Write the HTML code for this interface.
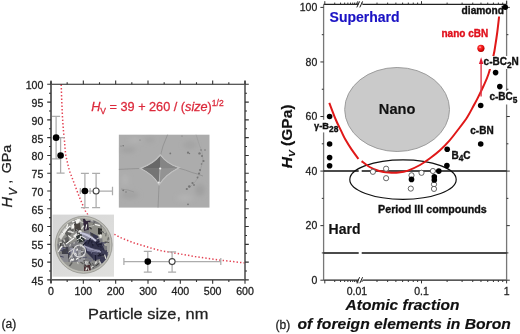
<!DOCTYPE html><html><head><meta charset="utf-8"><style>html,body{margin:0;padding:0;background:#fff;width:520px;height:334px;overflow:hidden}svg{display:block;will-change:transform}text{font-family:"Liberation Sans",sans-serif}</style></head><body>
<svg width="520" height="334" viewBox="0 0 520 334">
<defs><radialGradient id="ball" cx="0.38" cy="0.35" r="0.7"><stop offset="0" stop-color="#ffd0d0"/><stop offset="0.25" stop-color="#ff3030"/><stop offset="0.8" stop-color="#d00000"/><stop offset="1" stop-color="#900000"/></radialGradient><radialGradient id="disc" cx="0.5" cy="0.5" r="0.5"><stop offset="0" stop-color="#8c8c98"/><stop offset="0.8" stop-color="#7a7a88"/><stop offset="0.92" stop-color="#b8b8b0"/><stop offset="1" stop-color="#d0d0c8"/></radialGradient><linearGradient id="phbg" x1="0" y1="0" x2="1" y2="1"><stop offset="0" stop-color="#d6d6d6"/><stop offset="1" stop-color="#e0e0de"/></linearGradient><clipPath id="dclip"><circle cx="83.7" cy="244.8" r="27.9"/></clipPath><filter id="pblur" x="-10%" y="-10%" width="120%" height="120%"><feGaussianBlur stdDeviation="0.65"/></filter><filter id="sblur" x="-20%" y="-20%" width="140%" height="140%"><feGaussianBlur stdDeviation="2"/></filter><filter id="s2blur" x="-20%" y="-20%" width="140%" height="140%"><feGaussianBlur stdDeviation="0.45"/></filter><clipPath id="semclip"><rect x="118.6" y="134.4" width="91.1" height="73.4"/></clipPath></defs>
<rect width="520" height="334" fill="#fff"/>
<path d="M61.2,84.6 L61.7,100 L62.5,118 L63.4,130 L64.5,141 L65.6,154.5 L67.4,162.6 L69.5,171 L72.7,179.4 L75.8,187.7 L79,196.1 L82.1,203.5 L85.3,210.8 L89.4,217 L95,223 L101,227.5 L107,231 L114.4,234.3 L120,237.4 L126,239.8 L134.3,243 L143.3,245.7 L152.3,248.5 L161.3,250.8 L172,252.5 L195,256.6 L220.8,260.2 L244.5,262.9" fill="none" stroke="#e44454" stroke-width="1.5" stroke-dasharray="1.4 2.1" stroke-linecap="butt"/>
<path d="M56.1,116.31 V158.98 M52.1,116.31 H60.1 M52.1,158.98 H60.1" stroke="#acacac" stroke-width="1.25" fill="none"/>
<path d="M60.6,137.65 V173.21 M56.6,137.65 H64.6 M56.6,173.21 H64.6" stroke="#acacac" stroke-width="1.25" fill="none"/>
<path d="M84.9,173.3 V207.5 M80.9,173.3 H88.9 M80.9,207.5 H88.9" stroke="#acacac" stroke-width="1.25" fill="none"/>
<path d="M96.1,173.3 V207.5 M92.1,173.3 H100.1 M92.1,207.5 H100.1" stroke="#acacac" stroke-width="1.25" fill="none"/>
<path d="M80.3,191 H90.1 M80.3,188 V194 M90.1,188 V194" stroke="#acacac" stroke-width="1.25" fill="none"/>
<path d="M90.1,191 H112.5 M112.5,186.7 V195.3" stroke="#acacac" stroke-width="1.25" fill="none"/>
<path d="M147.8,251.3 V272.1 M143.8,251.3 H151.8 M143.8,272.1 H151.8" stroke="#acacac" stroke-width="1.25" fill="none"/>
<path d="M172.1,251.8 V272.1 M168.1,251.8 H176.1 M168.1,272.1 H176.1" stroke="#acacac" stroke-width="1.25" fill="none"/>
<path d="M123.9,261.6 H220.8 M123.9,258.1 V265.1 M220.8,258.1 V265.1" stroke="#acacac" stroke-width="1.25" fill="none"/>
<circle cx="56.1" cy="137.65" r="3.3" fill="#000"/>
<circle cx="60.6" cy="155.43" r="3.3" fill="#000"/>
<circle cx="84.9" cy="191" r="3.3" fill="#000"/>
<circle cx="96.1" cy="191" r="3" fill="#fff" stroke="#444" stroke-width="1.1"/>
<circle cx="147.8" cy="261.6" r="3.3" fill="#000"/>
<circle cx="172.1" cy="261.6" r="3" fill="#fff" stroke="#444" stroke-width="1.1"/>
<g clip-path="url(#semclip)">
<rect x="118.6" y="134.4" width="91.1" height="73.4" fill="#acacac"/>
<g filter="url(#sblur)">
<ellipse cx="128" cy="150" rx="8" ry="3" fill="#a2a2a2"/>
<ellipse cx="135" cy="140" rx="6" ry="2.5" fill="#b4b4b4"/>
<ellipse cx="190" cy="145" rx="7" ry="4" fill="#a4a4a4"/>
<ellipse cx="130" cy="195" rx="9" ry="4" fill="#a3a3a3"/>
<ellipse cx="185" cy="198" rx="8" ry="3" fill="#b3b3b3"/>
<ellipse cx="150" cy="140" rx="5" ry="3" fill="#a5a5a5"/>
<ellipse cx="200" cy="190" rx="5" ry="6" fill="#a0a0a0"/>
<ellipse cx="125" cy="180" rx="4" ry="6" fill="#b2b2b2"/>
</g>
<g filter="url(#s2blur)">
<path d="M118.6,169.4 Q130,168.8 142,168.4 M177.5,167.8 Q186,170 192,172.5 Q198,174 203,176 M159.1,183.6 L158.6,195 L158,207.8 M160.4,155.9 L163,146 L167.7,134.4" stroke="#929292" stroke-width="0.9" fill="none"/>
<path d="M196,134.4 L199,144 L202,152 L203,160 L201,168 L199,176 L195,182 L189,188" stroke="#9c9c9c" stroke-width="0.7" fill="none"/>
<path d="M121,189 L128,190 L134,192" stroke="#959595" stroke-width="0.8" fill="none"/>
<path d="M142,168.4 Q153.84,164.05 160.4,155.9 Q166.26,163.85 177.5,167.8 Q165.8,173.54 159.1,183.6 Q153.4,173.75 142,168.4 Z" fill="none" stroke="#c4c4c4" stroke-width="2.6" opacity="0.85"/>
<clipPath id="indc"><path d="M142,168.4 Q153.84,164.05 160.4,155.9 Q166.26,163.85 177.5,167.8 Q165.8,173.54 159.1,183.6 Q153.4,173.75 142,168.4 Z"/></clipPath>
<g clip-path="url(#indc)">
<rect x="140" y="150" width="40" height="40" fill="#888"/>
<polygon points="142,168.4 160.4,155.9 160,168.5" fill="#686868"/>
<polygon points="142,168.4 159.1,183.6 160,168.5" fill="#747474"/>
<polygon points="177.5,167.8 160.4,155.9 160,168.5" fill="#858585"/>
<polygon points="177.5,167.8 159.1,183.6 160,168.5" fill="#939393"/>
<path d="M160,168.5 L159.3,182" stroke="#b8b8b8" stroke-width="0.9"/>
</g>
<circle cx="160.2" cy="168.5" r="1.1" fill="#f2f2f2"/>
<circle cx="158.8" cy="182.6" r="1.0" fill="#eaeaea"/>
</g>
<circle cx="199.5" cy="153.4" r="1.2" fill="#767676"/>
<circle cx="201" cy="150" r="0.8" fill="#767676"/>
<circle cx="202" cy="156" r="1" fill="#767676"/>
<circle cx="203.5" cy="161" r="1.1" fill="#767676"/>
<circle cx="201.5" cy="164" r="0.8" fill="#767676"/>
<circle cx="200" cy="170" r="1" fill="#767676"/>
<circle cx="199" cy="173.5" r="1.1" fill="#767676"/>
<circle cx="197.5" cy="177.5" r="0.9" fill="#767676"/>
<circle cx="192.5" cy="183" r="1.1" fill="#767676"/>
<circle cx="189.3" cy="186.5" r="1.3" fill="#767676"/>
<circle cx="186.8" cy="189" r="1.1" fill="#767676"/>
<circle cx="188" cy="204.3" r="0.9" fill="#767676"/>
<circle cx="170.3" cy="153.4" r="0.9" fill="#767676"/>
<circle cx="188" cy="152.7" r="1.1" fill="#767676"/>
<circle cx="189.5" cy="153.5" r="0.7" fill="#767676"/>
<circle cx="123.2" cy="190.3" r="0.9" fill="#767676"/>
<circle cx="126" cy="192" r="0.7" fill="#767676"/>
<circle cx="123.2" cy="145.8" r="0.8" fill="#767676"/>
<circle cx="205" cy="150" r="0.8" fill="#767676"/>
<circle cx="194" cy="185" r="0.9" fill="#767676"/>
<circle cx="121" cy="146" r="0.6" fill="#767676"/>
<circle cx="140" cy="140" r="0.6" fill="#767676"/>
<circle cx="182" cy="136" r="0.6" fill="#767676"/>
</g>
<rect x="52.5" y="214.6" width="61.5" height="62.1" fill="url(#phbg)"/>
<circle cx="83.7" cy="244.8" r="28.6" fill="#b8b8b0"/>
<g clip-path="url(#dclip)"><g filter="url(#pblur)">
<circle cx="83.7" cy="244.8" r="28.3" fill="#7a7a7e"/>
<polygon points="56,244 58,232 64,224 72,219 84,218 84,232 78,240 70,244" fill="#8e8e8a"/>
<polygon points="58,238 62,230 66,226 70,228 64,236" fill="#b4b4b0"/>
<polygon points="64,232 70,226 74,230 68,238" fill="#5e5e5c"/>
<polygon points="70,227 78,219 81,220 73,229" fill="#f4f4f0"/>
<polygon points="73,236 80,230 82,232 75,238" fill="#ececea"/>
<polygon points="59,237 65,228 67,230 61,240" fill="#dcdcd8"/>
<polygon points="74,224 80,223 81,230 75,231" fill="#4a4540"/>
<polygon points="76,236 83,233 85,241 78,243" fill="#2e3434"/>
<polygon points="61,241 68,236 70,243 63,245" fill="#606060"/>
<polygon points="83,219 90,219 91,229 84,231" fill="#30283a"/>
<polygon points="88,222 100,224 104,232 98,238 90,236" fill="#8e8e88"/>
<polygon points="98,228 104,229 103,235 98,234" fill="#2c2c2c"/>
<polygon points="98,235 103,235 101,239" fill="#d0d0c8"/>
<polygon points="102,226 108,233 111,246 103,246 102,236" fill="#a8a8a0"/>
<polygon points="82,232 90,234 97,240 88,241 82,237" fill="#8c8ca0"/>
<polygon points="84,240 97,240 103,246 107,256 104,263 94,260 86,252" fill="#30304a"/>
<polygon points="90,232 98,236 100,242 92,242" fill="#383850"/>
<polygon points="55,246 62,246 62,262 58,262" fill="#7c7c7c"/>
<polygon points="62,247 69,247 70,258 64,260 62,254" fill="#404048"/>
<polygon points="68,246 78,246 80,256 76,264 70,262" fill="#74747c"/>
<polygon points="70,248 76,248 77,256 72,258" fill="#9090a0"/>
<polygon points="78,250 84,250 84,262 78,262" fill="#9a9aa2"/>
<polygon points="60,262 84,262 84,273 70,272" fill="#969692"/>
<polygon points="80,252 85,252 85,262 80,262" fill="#9c9ca0"/>
<polygon points="86,247 100,250 100,253.5 87,251" fill="#7c7c98"/>
<polygon points="92,254 107,250 106,262 94,262" fill="#3c3c54"/>
<polygon points="88,262 104,258 106,264 98,270 88,270" fill="#888888"/>
<polygon points="84,265 90,265 91,271 84,271" fill="#482e30"/>
<polygon points="107,240 111,240 110,254 107,254" fill="#a4a4a0"/>
<polygon points="100,254 108,252 106,262 100,264" fill="#3a3a52"/>
<polygon points="84,217 92,217 96,220 86,221" fill="#a8a8a4"/>
<polygon points="60,254 68,254 68,262 62,262" fill="#8a8a90"/>
<path d="M79.79,252.64 L78.75,254.68" stroke="#c8c8c4" stroke-width="0.77"/><path d="M61.68,231.98 L63.51,233.44" stroke="#5a5a5a" stroke-width="0.75"/><path d="M98.76,253.12 L96.62,254.41" stroke="#1e1e30" stroke-width="1.14"/><path d="M78.49,240.58 L77.91,242.7" stroke="#e4e4e0" stroke-width="0.73"/><path d="M91.23,233.6 L93.46,234.68" stroke="#3e3e3c" stroke-width="1.09"/><path d="M80.61,236.01 L80,238.69" stroke="#f4f4f0" stroke-width="1.08"/><path d="M87.56,245.77 L91.33,248.62" stroke="#44445e" stroke-width="1.24"/><path d="M59.14,248.7 L60.4,251.41" stroke="#e4e4e0" stroke-width="1.19"/><path d="M84.63,261.37 L84.2,266.86" stroke="#5a5a5a" stroke-width="0.9"/><path d="M91.75,241.28 L93.03,246.14" stroke="#1e1e30" stroke-width="1.35"/><path d="M59.6,256.1 L63.71,257.13" stroke="#44445e" stroke-width="0.94"/><path d="M74.03,258.65 L72.21,260" stroke="#f4f4f0" stroke-width="1.36"/><path d="M60.83,247.71 L65.55,248.62" stroke="#6a6a84" stroke-width="1.1"/><path d="M78.32,227.19 L74.83,231.5" stroke="#3e3e3c" stroke-width="0.72"/><path d="M72.5,246.89 L74.59,247.69" stroke="#3e3e3c" stroke-width="0.79"/><path d="M85.01,260.29 L82.87,261.2" stroke="#5a5a5a" stroke-width="0.98"/><path d="M81.6,252.04 L82.51,256.14" stroke="#5a5a5a" stroke-width="1.39"/><path d="M76.37,229.68 L78.12,231.23" stroke="#e4e4e0" stroke-width="0.86"/><path d="M85.98,260.99 L85.13,263.93" stroke="#f4f4f0" stroke-width="0.8"/><path d="M63.58,239.45 L64.93,241.56" stroke="#c8c8c4" stroke-width="1.37"/><path d="M71,223.95 L71.74,229.38" stroke="#c8c8c4" stroke-width="0.97"/><path d="M77.55,248.64 L76.63,250.69" stroke="#f4f4f0" stroke-width="1.39"/><path d="M76.2,246.74 L75.45,249.03" stroke="#c8c8c4" stroke-width="0.81"/><path d="M93.32,253.73 L98.8,254.17" stroke="#6a6a84" stroke-width="0.96"/><path d="M67.76,224.32 L66.53,228.01" stroke="#f4f4f0" stroke-width="1.29"/><path d="M101.03,242.88 L101.15,245.22" stroke="#1e1e30" stroke-width="1.22"/><path d="M83.78,225.52 L81.48,228.86" stroke="#e4e4e0" stroke-width="1.37"/><path d="M74.23,242.03 L73.95,244.12" stroke="#c8c8c4" stroke-width="0.91"/><path d="M80.71,237.83 L77.1,239.73" stroke="#e4e4e0" stroke-width="0.95"/><path d="M86.91,261.02 L86.87,265.57" stroke="#c8c8c4" stroke-width="1.27"/><path d="M109.3,241.06 L104.98,244.08" stroke="#e4e4e0" stroke-width="0.84"/><path d="M64.5,245.7 L59.34,245.87" stroke="#5a5a5a" stroke-width="0.88"/><path d="M74.41,218.63 L75.36,224.3" stroke="#3e3e3c" stroke-width="1.37"/><path d="M74.75,252.89 L76.86,254.71" stroke="#e4e4e0" stroke-width="1.04"/><path d="M100.72,242.94 L106.35,242.97" stroke="#44445e" stroke-width="1.26"/><path d="M104.02,254.61 L99.09,256.04" stroke="#1e1e30" stroke-width="1.03"/><path d="M92.23,262.96 L94.84,267.46" stroke="#5a5a5a" stroke-width="1.02"/><path d="M80.77,235.95 L86.01,238.8" stroke="#f4f4f0" stroke-width="0.81"/><path d="M100.25,230.73 L105.01,233.09" stroke="#5a5a5a" stroke-width="1.16"/><path d="M71.62,259.64 L73.5,260.46" stroke="#f4f4f0" stroke-width="1.07"/><path d="M101.5,236.96 L96.62,239.04" stroke="#e4e4e0" stroke-width="0.72"/><path d="M89.1,261.24 L86.67,263.48" stroke="#c8c8c4" stroke-width="0.99"/><path d="M99.38,260.93 L101.08,264.36" stroke="#c8c8c4" stroke-width="1.27"/><path d="M61.81,241.89 L59.47,242.83" stroke="#e4e4e0" stroke-width="1.07"/><path d="M99.65,246.24 L101.35,247.33" stroke="#1e1e30" stroke-width="0.82"/><path d="M62.58,246.77 L61.99,250.03" stroke="#6a6a84" stroke-width="1.07"/><path d="M62.41,246.87 L60.33,247.67" stroke="#e4e4e0" stroke-width="0.89"/><path d="M86.72,224.33 L85.75,229.28" stroke="#f4f4f0" stroke-width="1.01"/><path d="M70.01,230.64 L69.82,235.41" stroke="#5a5a5a" stroke-width="1.06"/><path d="M88.65,226.36 L91.57,229.23" stroke="#3e3e3c" stroke-width="1.35"/><path d="M92.37,235.83 L92.97,239.45" stroke="#5a5a5a" stroke-width="1.01"/><path d="M92.65,249.77 L97.21,250.84" stroke="#1e1e30" stroke-width="1.33"/><path d="M96.51,261.48 L95.27,263.73" stroke="#e4e4e0" stroke-width="1.38"/><path d="M87.81,267.36 L89.05,271.11" stroke="#e4e4e0" stroke-width="0.81"/><path d="M66.38,251.22 L67.73,253.65" stroke="#44445e" stroke-width="0.76"/><path d="M73.52,253.48 L74.14,258.25" stroke="#5a5a5a" stroke-width="0.93"/><path d="M67.8,231.39 L73.62,232.58" stroke="#e4e4e0" stroke-width="1.38"/><path d="M91.56,252.52 L96.63,253.16" stroke="#44445e" stroke-width="1.23"/><path d="M95.2,221.06 L92.16,225.98" stroke="#5a5a5a" stroke-width="0.8"/><path d="M101.23,234.48 L99.84,236.39" stroke="#f4f4f0" stroke-width="1.26"/><path d="M92.83,266.07 L94.2,267.62" stroke="#f4f4f0" stroke-width="1.26"/><path d="M101.44,256.08 L106.77,257.22" stroke="#5a5a5a" stroke-width="0.71"/><path d="M102.34,243.62 L98.01,244.8" stroke="#1e1e30" stroke-width="1.07"/><path d="M83.35,252.68 L85.27,253.75" stroke="#1e1e30" stroke-width="1.35"/><path d="M69.36,230.22 L72.38,232.5" stroke="#e4e4e0" stroke-width="0.89"/><path d="M91.09,220.68 L93.15,220.92" stroke="#c8c8c4" stroke-width="1.09"/><path d="M91.41,260.87 L89.04,261.36" stroke="#6a6a84" stroke-width="1"/><path d="M59.75,243.63 L61.08,247.43" stroke="#e4e4e0" stroke-width="1.39"/><path d="M72.28,262.42 L69.53,266.04" stroke="#5a5a5a" stroke-width="1.39"/><path d="M104.63,242.05 L109.13,242.25" stroke="#3e3e3c" stroke-width="1"/><path d="M102.52,250.02 L103.99,253.77" stroke="#44445e" stroke-width="1.12"/><path d="M80.5,238.88 L83.07,240.57" stroke="#f4f4f0" stroke-width="0.88"/><path d="M108.35,237.35 L107.91,240.29" stroke="#3e3e3c" stroke-width="0.85"/><path d="M88.23,257.87 L91.24,258.68" stroke="#6a6a84" stroke-width="0.84"/><path d="M81.11,243.88 L82.7,245.62" stroke="#5a5a5a" stroke-width="1.11"/><path d="M73.19,252.35 L72.26,254.5" stroke="#c8c8c4" stroke-width="1.3"/><path d="M98.92,263.37 L95.5,266.13" stroke="#3e3e3c" stroke-width="1.2"/><path d="M70.59,244.1 L69.65,246.5" stroke="#c8c8c4" stroke-width="1.14"/><path d="M79.52,221.07 L83.23,222.8" stroke="#c8c8c4" stroke-width="1.1"/><path d="M86.38,239.65 L83.51,243.98" stroke="#6a6a84" stroke-width="1.18"/><path d="M78.18,233.22 L80.7,233.46" stroke="#3e3e3c" stroke-width="1.37"/><path d="M70.44,256.63 L72.49,256.96" stroke="#c8c8c4" stroke-width="1.18"/><path d="M84.24,243.42 L80.23,246.38" stroke="#c8c8c4" stroke-width="1.33"/><path d="M100.55,253.5 L97.83,256.29" stroke="#1e1e30" stroke-width="1.29"/><path d="M84.1,265.35 L87.54,268.4" stroke="#5a5a5a" stroke-width="1.05"/><path d="M72.02,254.55 L69.26,258.8" stroke="#c8c8c4" stroke-width="1.14"/><path d="M88.84,261.53 L91.16,265.5" stroke="#3e3e3c" stroke-width="1.13"/><path d="M95.41,255.03 L95.67,260.91" stroke="#1e1e30" stroke-width="1.18"/><path d="M77.61,230.59 L77.41,234.45" stroke="#5a5a5a" stroke-width="1.24"/><path d="M101.93,243.03 L103.23,244.98" stroke="#44445e" stroke-width="0.71"/><path d="M63.26,250.5 L59.48,250.88" stroke="#44445e" stroke-width="0.97"/><path d="M103.85,232.21 L106.14,232.76" stroke="#c8c8c4" stroke-width="0.88"/><path d="M71.74,258.67 L70.49,261.52" stroke="#f4f4f0" stroke-width="1.19"/><path d="M86.47,267.75 L86.57,269.84" stroke="#f4f4f0" stroke-width="1.36"/><path d="M78.13,228.66 L75.73,231.43" stroke="#5a5a5a" stroke-width="0.92"/><path d="M86.17,242.01 L82.37,245.79" stroke="#1e1e30" stroke-width="1.36"/><path d="M85.65,246.3 L83.59,248.5" stroke="#1e1e30" stroke-width="0.98"/><path d="M102.49,242.97 L104.06,246.33" stroke="#44445e" stroke-width="1.3"/><path d="M83.7,248.5 L81.49,252.47" stroke="#e4e4e0" stroke-width="0.87"/><path d="M80.46,261.96 L83.35,263.92" stroke="#5a5a5a" stroke-width="1.32"/><path d="M94.16,225.29 L88.61,226.84" stroke="#c8c8c4" stroke-width="0.84"/><path d="M104.63,254.6 L105.86,258.89" stroke="#e4e4e0" stroke-width="1.15"/><path d="M83.65,250.01 L81.21,250.58" stroke="#5a5a5a" stroke-width="0.99"/><path d="M82.72,255.75 L79.57,259.13" stroke="#5a5a5a" stroke-width="1.16"/><path d="M77.29,261.61 L78.16,264.14" stroke="#e4e4e0" stroke-width="0.75"/><path d="M61.02,242.83 L60.42,246.59" stroke="#3e3e3c" stroke-width="1.4"/><path d="M73.67,247.07 L75.61,248.42" stroke="#3e3e3c" stroke-width="1.09"/><path d="M78.33,258.04 L76.01,259.62" stroke="#f4f4f0" stroke-width="1.22"/><path d="M69.83,251.6 L69.56,255.1" stroke="#44445e" stroke-width="1.23"/><path d="M63.37,242.88 L65.39,247.17" stroke="#c8c8c4" stroke-width="1.14"/><path d="M90.43,234.68 L92.4,236.93" stroke="#5a5a5a" stroke-width="1.15"/><path d="M73.19,249.1 L68.29,252.33" stroke="#e4e4e0" stroke-width="0.72"/><path d="M77.44,219.28 L77.81,223.61" stroke="#f4f4f0" stroke-width="0.75"/><path d="M106.11,232.44 L105.78,236.3" stroke="#5a5a5a" stroke-width="0.87"/><path d="M91.62,248.78 L91.29,253.5" stroke="#6a6a84" stroke-width="1.19"/><path d="M94.98,224.3 L99.91,225.65" stroke="#f4f4f0" stroke-width="1.25"/><path d="M87.08,267.67 L85.66,270.55" stroke="#e4e4e0" stroke-width="1.14"/><path d="M67.98,241.01 L66.22,242.63" stroke="#3e3e3c" stroke-width="1.07"/><path d="M68.24,235.47 L71.6,238.32" stroke="#f4f4f0" stroke-width="1.08"/><path d="M95.69,242.25 L98.62,246.74" stroke="#1e1e30" stroke-width="1.03"/><path d="M87.3,257.12 L82.52,257.71" stroke="#44445e" stroke-width="0.74"/><path d="M92.47,266.28 L91.43,268.36" stroke="#e4e4e0" stroke-width="1.17"/><path d="M92.86,239.12 L96.19,239.48" stroke="#44445e" stroke-width="0.95"/><path d="M80.4,243.93 L83.67,248.21" stroke="#f4f4f0" stroke-width="0.84"/><path d="M98.92,241.34 L96.45,242.9" stroke="#1e1e30" stroke-width="0.89"/><path d="M91.01,237.35 L89.32,241.46" stroke="#1e1e30" stroke-width="1.04"/><path d="M89.66,238.85 L87.99,244.29" stroke="#1e1e30" stroke-width="0.85"/><path d="M92.07,243.06 L94.28,243.43" stroke="#44445e" stroke-width="1.01"/><path d="M79.24,230.51 L81.41,231.31" stroke="#e4e4e0" stroke-width="0.93"/><path d="M94.17,266.71 L92.68,268.23" stroke="#5a5a5a" stroke-width="1.29"/>
<circle cx="79.5" cy="251" r="6" fill="none" stroke="#dcdcdc" stroke-width="1.1"/>
<path d="M80,233 Q88,234 96,241" stroke="#c8c8dc" stroke-width="2" fill="none"/>
<path d="M84,246 Q92,250 101,252" stroke="#9a9ab4" stroke-width="1.4" fill="none"/>
<path d="M62,234 L70,226 M66,244 L74,238 M58,252 L62,246 M72,222 L80,219" stroke="#f4f4f2" stroke-width="1.2" fill="none"/>
</g></g>
<circle cx="83.7" cy="244.8" r="27.3" fill="none" stroke="#c2c2ba" stroke-width="1.6" opacity="0.9"/>
<circle cx="83.7" cy="244.8" r="28.5" fill="none" stroke="#8a8a86" stroke-width="0.8" opacity="0.8"/>
<path d="M51,84.3 H245" stroke="#222" stroke-width="1.1"/>
<path d="M51,279.9 H245" stroke="#222" stroke-width="1.3"/>
<path d="M51,81.3 V282.9" stroke="#555" stroke-width="1.8"/>
<path d="M245,80.8 V279.9" stroke="#555" stroke-width="1.6"/>
<path d="M47.2,279.9 H51 M245,279.9 H248.8 M49,271.01 H51 M245,271.01 H247 M47.2,262.12 H51 M245,262.12 H248.8 M49,253.23 H51 M245,253.23 H247 M47.2,244.34 H51 M245,244.34 H248.8 M49,235.45 H51 M245,235.45 H247 M47.2,226.55 H51 M245,226.55 H248.8 M49,217.66 H51 M245,217.66 H247 M47.2,208.77 H51 M245,208.77 H248.8 M49,199.88 H51 M245,199.88 H247 M47.2,190.99 H51 M245,190.99 H248.8 M49,182.1 H51 M245,182.1 H247 M47.2,173.21 H51 M245,173.21 H248.8 M49,164.32 H51 M245,164.32 H247 M47.2,155.43 H51 M245,155.43 H248.8 M49,146.54 H51 M245,146.54 H247 M47.2,137.65 H51 M245,137.65 H248.8 M49,128.75 H51 M245,128.75 H247 M47.2,119.86 H51 M245,119.86 H248.8 M49,110.97 H51 M245,110.97 H247 M47.2,102.08 H51 M245,102.08 H248.8 M49,93.19 H51 M245,93.19 H247 M47.2,84.3 H51 M245,84.3 H248.8 M51,279.9 V283.7 M51,80.5 V84.3 M67.17,279.9 V281.9 M67.17,82.3 V84.3 M83.33,279.9 V283.7 M83.33,80.5 V84.3 M99.5,279.9 V281.9 M99.5,82.3 V84.3 M115.67,279.9 V283.7 M115.67,80.5 V84.3 M131.83,279.9 V281.9 M131.83,82.3 V84.3 M148,279.9 V283.7 M148,80.5 V84.3 M164.17,279.9 V281.9 M164.17,82.3 V84.3 M180.33,279.9 V283.7 M180.33,80.5 V84.3 M196.5,279.9 V281.9 M196.5,82.3 V84.3 M212.67,279.9 V283.7 M212.67,80.5 V84.3 M228.83,279.9 V281.9 M228.83,82.3 V84.3 M245,279.9 V283.7 M245,80.5 V84.3" stroke="#333" stroke-width="1.1"/>
<text x="43.4" y="284.9" font-size="10.6" text-anchor="end" fill="#222" stroke="#222" stroke-width="0.28">45</text>
<text x="43.4" y="267.12" font-size="10.6" text-anchor="end" fill="#222" stroke="#222" stroke-width="0.28">50</text>
<text x="43.4" y="249.34" font-size="10.6" text-anchor="end" fill="#222" stroke="#222" stroke-width="0.28">55</text>
<text x="43.4" y="231.55" font-size="10.6" text-anchor="end" fill="#222" stroke="#222" stroke-width="0.28">60</text>
<text x="43.4" y="213.77" font-size="10.6" text-anchor="end" fill="#222" stroke="#222" stroke-width="0.28">65</text>
<text x="43.4" y="195.99" font-size="10.6" text-anchor="end" fill="#222" stroke="#222" stroke-width="0.28">70</text>
<text x="43.4" y="178.21" font-size="10.6" text-anchor="end" fill="#222" stroke="#222" stroke-width="0.28">75</text>
<text x="43.4" y="160.43" font-size="10.6" text-anchor="end" fill="#222" stroke="#222" stroke-width="0.28">80</text>
<text x="43.4" y="142.65" font-size="10.6" text-anchor="end" fill="#222" stroke="#222" stroke-width="0.28">85</text>
<text x="43.4" y="124.86" font-size="10.6" text-anchor="end" fill="#222" stroke="#222" stroke-width="0.28">90</text>
<text x="43.4" y="107.08" font-size="10.6" text-anchor="end" fill="#222" stroke="#222" stroke-width="0.28">95</text>
<text x="43.4" y="89.3" font-size="10.6" text-anchor="end" fill="#222" stroke="#222" stroke-width="0.28">100</text>
<text x="51" y="295.3" font-size="10.6" text-anchor="middle" fill="#222" stroke="#222" stroke-width="0.28">0</text>
<text x="83.33" y="295.3" font-size="10.6" text-anchor="middle" fill="#222" stroke="#222" stroke-width="0.28">100</text>
<text x="115.67" y="295.3" font-size="10.6" text-anchor="middle" fill="#222" stroke="#222" stroke-width="0.28">200</text>
<text x="148" y="295.3" font-size="10.6" text-anchor="middle" fill="#222" stroke="#222" stroke-width="0.28">300</text>
<text x="180.33" y="295.3" font-size="10.6" text-anchor="middle" fill="#222" stroke="#222" stroke-width="0.28">400</text>
<text x="212.67" y="295.3" font-size="10.6" text-anchor="middle" fill="#222" stroke="#222" stroke-width="0.28">500</text>
<text x="245" y="295.3" font-size="10.6" text-anchor="middle" fill="#222" stroke="#222" stroke-width="0.28">600</text>
<text x="91.2" y="111.4" font-size="12.7" fill="#dc2a3c" stroke="#dc2a3c" stroke-width="0.28"><tspan font-style="italic">H</tspan><tspan font-size="8.5" dy="2.5">V</tspan><tspan dy="-2.5"> = 39 + 260 / (</tspan><tspan font-style="italic">size</tspan><tspan>)</tspan><tspan font-size="8.5" dy="-5">1/2</tspan></text>
<text transform="translate(12.0,207.6) rotate(-90)" font-size="14.5" font-style="italic" fill="#222" stroke="#222" stroke-width="0.28">H</text>
<text transform="translate(17.0,195.6) rotate(-90)" font-size="11" font-style="italic" fill="#222" stroke="#222" stroke-width="0.28">V</text>
<text transform="translate(11.2,183.6) rotate(-90)" font-size="13.2" fill="#222" stroke="#222" stroke-width="0.28">,</text>
<text transform="translate(11.0,173.2) rotate(-90) scale(1.08,1)" font-size="13.2" fill="#222" stroke="#222" stroke-width="0.28">GPa</text>
<text x="88.1" y="318.8" font-size="15" fill="#222" transform="translate(88.1,0) scale(1.093,1) translate(-88.1,0)" stroke="#222" stroke-width="0.28">Particle size, nm</text>
<text x="1.5" y="328.2" font-size="12" fill="#222" stroke="#222" stroke-width="0.28">(a)</text>
<path d="M323.6,4.4 H358.5 M362.5,4.4 H506.6" stroke="#222" stroke-width="1.1"/>
<path d="M323.6,280.2 H358.5 M362.5,280.2 H506.6" stroke="#222" stroke-width="1.2"/>
<path d="M323.6,4.4 V280.2" stroke="#777" stroke-width="1.3"/>
<path d="M506.6,0.5 V280.2" stroke="#777" stroke-width="1.3"/>
<path d="M356.8,7.4 L359.6,1.4 M359.8,7.4 L362.6,1.4" stroke="#222" stroke-width="1"/>
<path d="M356.8,283.2 L359.6,277.2 M359.8,283.2 L362.6,277.2" stroke="#222" stroke-width="1"/>
<path d="M320.4,280.2 H323.6 M506.6,280.2 H509.8 M321.8,252.92 H323.6 M506.6,252.92 H508.4 M320.4,225.64 H323.6 M506.6,225.64 H509.8 M321.8,198.36 H323.6 M506.6,198.36 H508.4 M320.4,171.08 H323.6 M506.6,171.08 H509.8 M321.8,143.8 H323.6 M506.6,143.8 H508.4 M320.4,116.52 H323.6 M506.6,116.52 H509.8 M321.8,89.24 H323.6 M506.6,89.24 H508.4 M320.4,61.96 H323.6 M506.6,61.96 H509.8 M321.8,34.68 H323.6 M506.6,34.68 H508.4 M320.4,7.4 H323.6 M506.6,7.4 H509.8 M324.8,280.2 V283.4 M324.8,1.2 V4.4 M334.73,280.2 V282 M334.73,2.6 V4.4 M340.55,280.2 V282 M340.55,2.6 V4.4 M344.67,280.2 V282 M344.67,2.6 V4.4 M347.87,280.2 V282 M347.87,2.6 V4.4 M350.48,280.2 V282 M350.48,2.6 V4.4 M352.69,280.2 V282 M352.69,2.6 V4.4 M354.6,280.2 V282 M354.6,2.6 V4.4 M356.29,280.2 V282 M356.29,2.6 V4.4 M357.8,280.2 V283.4 M357.8,1.2 V4.4 M362.02,280.2 V282 M362.02,2.6 V4.4 M377,280.2 V282 M377,2.6 V4.4 M387.64,280.2 V282 M387.64,2.6 V4.4 M395.88,280.2 V282 M395.88,2.6 V4.4 M402.62,280.2 V282 M402.62,2.6 V4.4 M408.32,280.2 V282 M408.32,2.6 V4.4 M413.25,280.2 V282 M413.25,2.6 V4.4 M417.61,280.2 V282 M417.61,2.6 V4.4 M421.5,280.2 V283.4 M421.5,1.2 V4.4 M447.12,280.2 V282 M447.12,2.6 V4.4 M462.1,280.2 V282 M462.1,2.6 V4.4 M472.74,280.2 V282 M472.74,2.6 V4.4 M480.98,280.2 V282 M480.98,2.6 V4.4 M487.72,280.2 V282 M487.72,2.6 V4.4 M493.42,280.2 V282 M493.42,2.6 V4.4 M498.35,280.2 V282 M498.35,2.6 V4.4 M502.71,280.2 V282 M502.71,2.6 V4.4 M506.6,280.2 V283.4 M506.6,1.2 V4.4" stroke="#333" stroke-width="1"/>
<text x="317.3" y="283.9" font-size="10.5" text-anchor="end" fill="#222" stroke="#222" stroke-width="0.28">0</text>
<text x="317.3" y="229.34" font-size="10.5" text-anchor="end" fill="#222" stroke="#222" stroke-width="0.28">20</text>
<text x="317.3" y="174.78" font-size="10.5" text-anchor="end" fill="#222" stroke="#222" stroke-width="0.28">40</text>
<text x="317.3" y="120.22" font-size="10.5" text-anchor="end" fill="#222" stroke="#222" stroke-width="0.28">60</text>
<text x="317.3" y="65.66" font-size="10.5" text-anchor="end" fill="#222" stroke="#222" stroke-width="0.28">80</text>
<text x="317.3" y="11.1" font-size="10.5" text-anchor="end" fill="#222" stroke="#222" stroke-width="0.28">100</text>
<ellipse cx="397.1" cy="109.5" rx="52.4" ry="42.0" fill="#cacaca" stroke="#9c9c9c" stroke-width="1"/>
<text x="397.1" y="113.9" font-size="14.6" font-weight="bold" text-anchor="middle" fill="#111" stroke="#111" stroke-width="0.15">Nano</text>
<rect x="314" y="119.8" width="25" height="12.6" fill="#fff"/>
<text x="314.0" y="128.9" font-size="9.3" font-weight="bold" fill="#111" stroke="#111" stroke-width="0.35">&#947;-B<tspan font-size="8.4" dy="3.3">28</tspan></text>
<path d="M323.6,171.08 H358.7 M361.7,171.08 H506.6" stroke="#111" stroke-width="1.5"/>
<path d="M323.6,252.92 H358.7 M361.7,252.92 H506.6" stroke="#111" stroke-width="1.5"/>
<ellipse cx="403" cy="179.6" rx="53.2" ry="19.7" fill="none" stroke="#111" stroke-width="1.2"/>
<path d="M329.3,102.9 C330.37,105.67 333.75,114.88 335.7,119.5 C337.65,124.12 339.38,127.25 341,130.6 C342.62,133.95 343.62,136.43 345.4,139.6 C347.18,142.77 349.52,146.38 351.7,149.6 C353.88,152.82 357.37,157.35 358.5,158.9" fill="none" stroke="#e01818" stroke-width="2"/>
<path d="M361.6,161.1 C362.93,162.08 366.67,165.35 369.6,167 C372.53,168.65 376,170.08 379.2,171 C382.4,171.92 385.58,172.25 388.8,172.5 C392.02,172.75 395.3,172.82 398.5,172.5 C401.7,172.18 404.42,171.85 408,170.6 C411.58,169.35 416.33,167.05 420,165 C423.67,162.95 426.67,160.75 430,158.3 C433.33,155.85 436.8,153.2 440,150.3 C443.2,147.4 446.17,144.37 449.2,140.9 C452.23,137.43 455.2,133.45 458.2,129.5 C461.2,125.55 464.62,121.2 467.2,117.2 C469.78,113.2 471.93,108.72 473.7,105.5 C475.47,102.28 476.17,101.15 477.8,97.9 C479.43,94.65 481.72,89.98 483.5,86 C485.28,82.02 486.82,79.17 488.5,74 C490.18,68.83 492.47,59.75 493.6,55 C494.73,50.25 494.68,49.33 495.3,45.5 C495.92,41.67 496.67,36.83 497.3,32 C497.93,27.17 498.8,19.08 499.1,16.5" fill="none" stroke="#e01818" stroke-width="2"/>
<circle cx="329.6" cy="116.5" r="2.8" fill="#000"/>
<circle cx="329.6" cy="144" r="2.8" fill="#000"/>
<circle cx="329.6" cy="157.6" r="2.8" fill="#000"/>
<circle cx="329.6" cy="165.7" r="2.8" fill="#000"/>
<circle cx="372.9" cy="171.8" r="2.6" fill="#fff" stroke="#555" stroke-width="0.9"/>
<circle cx="386.1" cy="168.7" r="2.6" fill="#fff" stroke="#555" stroke-width="0.9"/>
<circle cx="386.1" cy="178.2" r="2.6" fill="#fff" stroke="#555" stroke-width="0.9"/>
<circle cx="411.5" cy="175.3" r="2.6" fill="#fff" stroke="#555" stroke-width="0.9"/>
<circle cx="410.8" cy="188.6" r="2.6" fill="#fff" stroke="#555" stroke-width="0.9"/>
<circle cx="421.5" cy="172.8" r="2.6" fill="#fff" stroke="#555" stroke-width="0.9"/>
<circle cx="432.9" cy="171" r="2.6" fill="#fff" stroke="#555" stroke-width="0.9"/>
<circle cx="434" cy="184.3" r="2.6" fill="#fff" stroke="#555" stroke-width="0.9"/>
<circle cx="434" cy="188.9" r="2.6" fill="#fff" stroke="#555" stroke-width="0.9"/>
<circle cx="411.5" cy="179.4" r="2.8" fill="#000"/>
<circle cx="434.3" cy="176.8" r="2.8" fill="#000"/>
<circle cx="434.3" cy="179.9" r="2.8" fill="#000"/>
<circle cx="438.8" cy="171.1" r="2.8" fill="#000"/>
<circle cx="446.9" cy="165.6" r="2.8" fill="#000"/>
<circle cx="447.2" cy="149.2" r="2.8" fill="#000"/>
<circle cx="480.7" cy="144" r="2.8" fill="#000"/>
<circle cx="480.7" cy="105.5" r="2.8" fill="#000"/>
<circle cx="495.6" cy="72.6" r="2.8" fill="#000"/>
<circle cx="499.8" cy="86.6" r="2.8" fill="#000"/>
<text x="356.9" y="295.3" font-size="10.5" text-anchor="middle" fill="#222" stroke="#222" stroke-width="0.28">0.01</text>
<text x="421.5" y="295.3" font-size="10.5" text-anchor="middle" fill="#222" stroke="#222" stroke-width="0.28">0.1</text>
<text x="506.6" y="295.3" font-size="10.5" text-anchor="middle" fill="#222" stroke="#222" stroke-width="0.28">1</text>
<text x="329.6" y="21.9" font-size="14" font-weight="bold" fill="#1a12c4" stroke="#1a12c4" stroke-width="0.15">Superhard</text>
<text x="328.6" y="233.6" font-size="14" font-weight="bold" fill="#111" stroke="#111" stroke-width="0.15">Hard</text>
<text x="378.1" y="213.4" font-size="10.7" font-weight="bold" fill="#111" stroke="#111" stroke-width="0.35">Period III compounds</text>
<rect x="460" y="5.5" width="44" height="10" fill="#fff"/>
<text x="461.6" y="13.9" font-size="10.2" font-weight="bold" text-anchor="start" fill="#111"  stroke="#111" stroke-width="0.35">diamond</text>
<circle cx="505.3" cy="7.2" r="2.7" fill="#000"/>
<text x="441.5" y="36.9" font-size="10" font-weight="bold" text-anchor="start" fill="#e0101c"  stroke="#e0101c" stroke-width="0.35">nano cBN</text>
<circle cx="480.9" cy="48.3" r="3.6" fill="url(#ball)"/>
<path d="M481.1,96.5 V62.5" stroke="#e03545" stroke-width="1.4"/>
<path d="M478.9,64 L481.1,57.2 L483.4,64 Z" fill="#e01830"/>
<rect x="484" y="56" width="36" height="13" fill="#fff"/>
<text x="483.6" y="65.4" font-size="10" font-weight="bold" fill="#111" stroke="#111" stroke-width="0.35">c-BC<tspan font-size="8.3" dy="3">2</tspan><tspan dy="-3">N</tspan></text>
<rect x="489" y="91" width="31" height="13.5" fill="#fff"/>
<text x="489.4" y="100.4" font-size="10" font-weight="bold" fill="#111" stroke="#111" stroke-width="0.35">c-BC<tspan font-size="8.3" dy="3">5</tspan></text>
<text x="470.3" y="134.3" font-size="10" font-weight="bold" fill="#111" stroke="#111" stroke-width="0.35">c-BN</text>
<text x="451.4" y="158.6" font-size="10" font-weight="bold" fill="#111" stroke="#111" stroke-width="0.35">B<tspan font-size="8.3" dy="2.8">4</tspan><tspan dy="-2.8">C</tspan></text>
<text transform="translate(292.2,168.2) rotate(-90) scale(1.07,1)" font-size="14.5" font-weight="bold" fill="#111" stroke="#111" stroke-width="0.15"><tspan font-style="italic">H</tspan><tspan font-size="9.5" dy="3" font-style="italic">V</tspan><tspan dy="-3"> (GPa)</tspan></text>
<text x="345.6" y="309.9" font-size="14" font-weight="bold" font-style="italic" fill="#111" transform="translate(345.8,0) scale(1.11,1) translate(-345.8,0)" stroke="#111" stroke-width="0.15">Atomic fraction</text>
<text x="297.5" y="329.2" font-size="14" font-weight="bold" font-style="italic" fill="#111" transform="translate(297.9,0) scale(1.12,1) translate(-297.9,0)" stroke="#111" stroke-width="0.15">of foreign elements in Boron</text>
<text x="275.6" y="328.9" font-size="12" fill="#222" stroke="#222" stroke-width="0.28">(b)</text>
</svg></body></html>
